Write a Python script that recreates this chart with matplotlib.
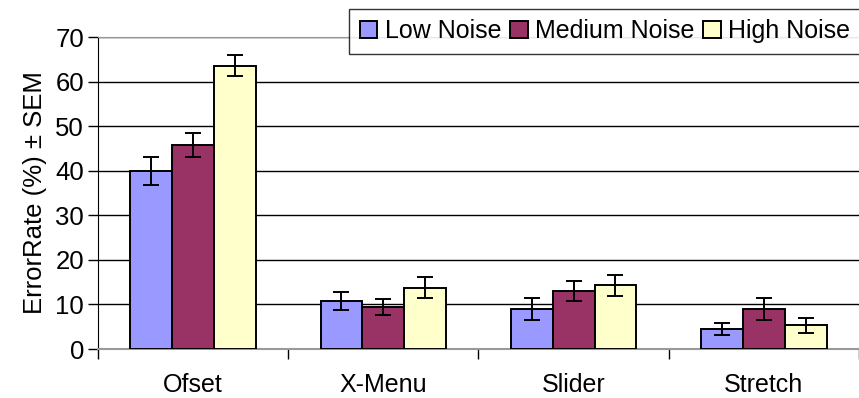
import matplotlib.pyplot as plt
import numpy as np

plt.rcParams['font.family'] = ['Liberation Sans', 'DejaVu Sans']

categories = ['Ofset', 'X-Menu', 'Slider', 'Stretch']
series = ['Low Noise', 'Medium Noise', 'High Noise']
low = [39.9, 10.8, 9.0, 4.5]
medium = [45.8, 9.4, 13.0, 9.0]
high = [63.6, 13.8, 14.3, 5.3]
low_sem = [3.2, 2.1, 2.5, 1.35]
medium_sem = [2.7, 1.8, 2.3, 2.5]
high_sem = [2.3, 2.3, 2.3, 1.6]
colors = ['#9999FF', '#993366', '#FFFFCC']


def main():
    fig = plt.figure(figsize=(8.59, 3.98), dpi=100)
    ax = fig.add_axes([0.114, 0.123, 0.886, 0.784])

    x = np.arange(len(categories))
    w = 0.22
    values = [low, medium, high]
    sems = [low_sem, medium_sem, high_sem]
    for i in range(3):
        ax.bar(x + (i - 1) * w, values[i], w, color=colors[i], edgecolor='black',
               linewidth=1.4, label=series[i], zorder=3)
        ax.errorbar(x + (i - 1) * w, values[i], yerr=sems[i], fmt='none',
                    ecolor='black', elinewidth=1.4, capsize=6, capthick=1.4, zorder=4)

    ax.set_xlim(-0.5, 3.5)
    ax.set_ylim(0, 70)
    ax.set_yticks(range(0, 71, 10))
    ax.tick_params(axis='y', labelsize=18.5, length=7, width=1, pad=3)
    ax.set_xticks(np.arange(-0.5, 3.6, 1))
    ax.set_xticklabels([])
    ax.tick_params(axis='x', which='major', length=7, width=1, direction='out')
    ax.set_xticks(x, minor=True)
    ax.set_xticklabels(categories, minor=True)
    ax.tick_params(axis='x', which='minor', length=0, labelsize=18, pad=17)

    ax.grid(axis='y', color='black', linewidth=1, zorder=0)
    ax.set_axisbelow(True)
    ax.spines['top'].set_color('#999999')
    ax.spines['right'].set_visible(False)
    ax.spines['bottom'].set_color('#999999')
    ax.spines['bottom'].set_linewidth(1.5)
    ax.spines['left'].set_color('black')

    ax.set_ylabel('ErrorRate (%) ± SEM', fontsize=18.5, labelpad=6)

    leg = fig.legend(loc='upper right', bbox_to_anchor=(1.002, 0.978), ncol=3,
                     fontsize=18, frameon=True, fancybox=False, edgecolor='black',
                     handlelength=0.7, handleheight=0.7, handletextpad=0.3,
                     columnspacing=0.35, borderpad=0.42, borderaxespad=0)
    leg.get_frame().set_linewidth(1)
    leg.set_zorder(10)

    plt.savefig('out.png', dpi=100)


if __name__ == "__main__":
    main()
